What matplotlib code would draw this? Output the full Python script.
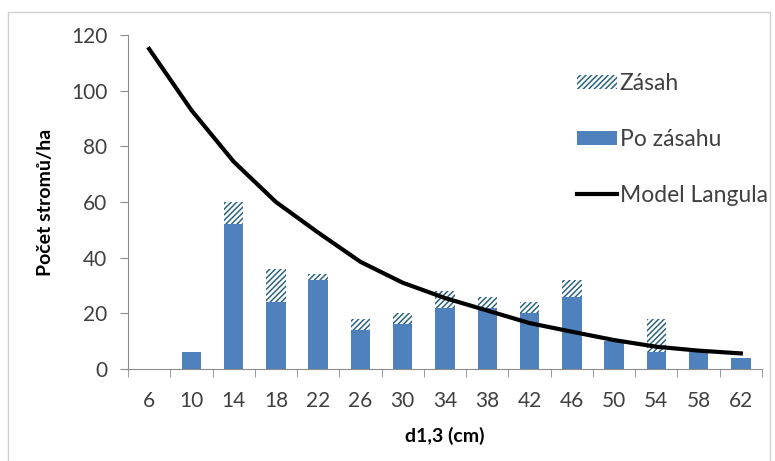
import matplotlib.pyplot as plt
from matplotlib.patches import Rectangle
import numpy as np

# data
diameters = ["6", "10", "14", "18", "22", "26", "30", "34", "38", "42", "46", "50", "54", "58", "62"]
po_zasahu = [0, 6, 52, 24, 32, 14, 16, 22, 22, 20, 26, 10, 6, 6, 4]
zasah = [0, 0, 8, 12, 2, 4, 4, 6, 4, 4, 6, 0, 12, 1, 0]
model_langula = [115, 93, 74.5, 60, 49, 38.5, 31, 25.5, 21, 16.5, 13.4, 10.4, 8, 6.6, 5.6]

BLUE = "#4F81BD"
HATCH = "#2d6680"
AXIS_GREY = "#8c8c8c"
TEXT = "#404040"

plt.rcParams["font.family"] = ["Lato", "DejaVu Sans"]
plt.rcParams["hatch.linewidth"] = 1.1

fig = plt.figure(figsize=(7.75, 4.61), dpi=100)
ax = fig.add_axes([128 / 775, 92 / 461, 634 / 775, 334 / 461])

x = np.arange(len(diameters))
bars_po = ax.bar(x, po_zasahu, width=0.46, color=BLUE, label="Po zásahu", zorder=2)
bars_zasah = ax.bar(x, zasah, width=0.46, bottom=po_zasahu, color="white", edgecolor=HATCH,
                    linewidth=0, hatch="//////", label="Zásah", zorder=2)
line_model, = ax.plot(x, model_langula, color="black", linewidth=3,
                      label="Model Langula", zorder=3)

ax.set_xlim(-0.5, len(diameters) - 0.5)
ax.set_ylim(0, 120)
ax.set_yticks(range(0, 121, 20))
ax.set_xticks(x)
ax.set_xticklabels(diameters)
ax.set_xticks(np.arange(-0.5, len(diameters)), minor=True)
ax.tick_params(axis="x", which="major", length=0, pad=16, labelsize=15, labelcolor=TEXT)
ax.tick_params(axis="x", which="minor", length=6, color=AXIS_GREY, direction="out")
ax.tick_params(axis="y", length=6, color=AXIS_GREY, labelsize=15, labelcolor=TEXT, pad=9)

for side in ["top", "right"]:
    ax.spines[side].set_visible(False)
for side in ["left", "bottom"]:
    ax.spines[side].set_color(AXIS_GREY)

ax.set_xlabel("d1,3 (cm)", fontsize=14, fontweight="bold", labelpad=11, color="black")
ax.set_ylabel("Počet stromů/ha", fontsize=14, fontweight="bold", labelpad=12, color="black")

ax.legend([bars_zasah, bars_po, line_model], ["Zásah", "Po zásahu", "Model Langula"],
          loc="upper left", bbox_to_anchor=(577 / 775, 1 - 73 / 461),
          bbox_transform=fig.transFigure, frameon=False, fontsize=16.5,
          borderpad=0, borderaxespad=0,
          handlelength=1.75, handleheight=0.55, handletextpad=0.12, labelspacing=1.52,
          labelcolor=TEXT)

# chart area border
fig.add_artist(Rectangle((8 / 775, -0.05), 762 / 775, 1.05 - 12 / 461,
                         transform=fig.transFigure, fill=False,
                         edgecolor="#d0d0d0", linewidth=1))

fig.savefig("out.png", dpi=100)
